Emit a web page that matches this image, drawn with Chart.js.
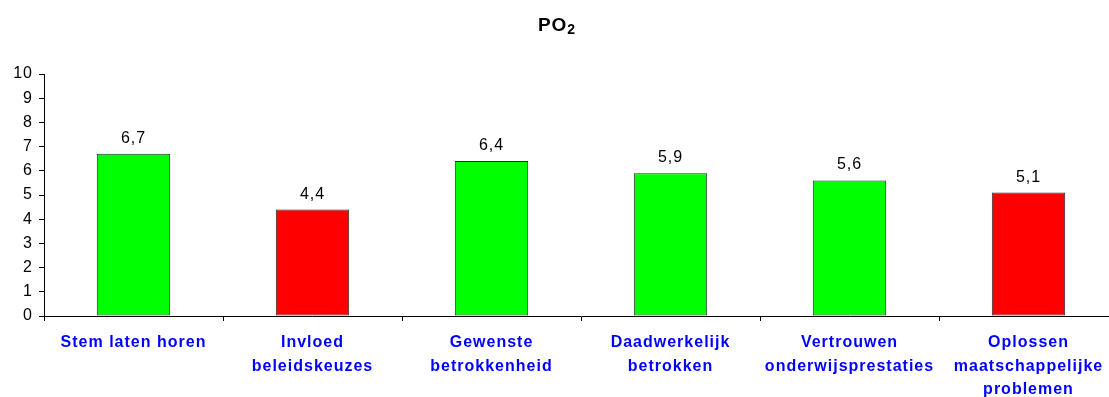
<!DOCTYPE html>
<html>
<head>
<meta charset="utf-8">
<script src="https://cdn.jsdelivr.net/npm/chart.js@4/dist/chart.umd.min.js"></script>
<style>
  html, body { margin: 0; padding: 0; background: #fff; overflow: hidden; }
  #wrap { width: 1120px; height: 397px; }
</style>
</head>
<body>
<div id="wrap"><canvas id="c" width="1120" height="397"></canvas></div>
<script>
const titleMain = "PO";
const titleSub = "2";
const categories = [
  ["Stem laten horen"],
  ["Invloed", "beleidskeuzes"],
  ["Gewenste", "betrokkenheid"],
  ["Daadwerkelijk", "betrokken"],
  ["Vertrouwen", "onderwijsprestaties"],
  ["Oplossen", "maatschappelijke", "problemen"]
];
const values = [6.7, 4.4, 6.4, 5.9, 5.6, 5.1];
const barColors = ["#00FF00", "#FF0000", "#00FF00", "#00FF00", "#00FF00", "#FF0000"];
const yTicks = [0, 1, 2, 3, 4, 5, 6, 7, 8, 9, 10];

const FONT = "'Liberation Sans', Arial, Helvetica, sans-serif";

const spacingPlugin = {
  id: 'spacing',
  beforeDraw(chart) {
    chart.ctx.letterSpacing = '1px';
  }
};

const titlePlugin = {
  id: 'subTitle',
  afterDraw(chart) {
    const ctx = chart.ctx;
    ctx.save();
    ctx.fillStyle = '#000';
    ctx.textBaseline = 'alphabetic';
    ctx.textAlign = 'left';
    ctx.font = "bold 19px " + FONT;
    const w1 = ctx.measureText(titleMain).width;
    ctx.font = "bold 14px " + FONT;
    const w2 = ctx.measureText(titleSub).width;
    const cx = 557;
    const x0 = cx - (w1 + w2) / 2;
    ctx.font = "bold 19px " + FONT;
    ctx.fillText(titleMain, x0, 31);
    ctx.font = "bold 14px " + FONT;
    ctx.fillText(titleSub, x0 + w1, 34);
    ctx.restore();
  }
};

const labelPlugin = {
  id: 'valueLabels',
  afterDatasetsDraw(chart) {
    const ctx = chart.ctx;
    const meta = chart.getDatasetMeta(0);
    ctx.save();
    ctx.fillStyle = '#000';
    ctx.font = "16px " + FONT;
    ctx.textAlign = 'center';
    ctx.textBaseline = 'alphabetic';
    meta.data.forEach((bar, i) => {
      const txt = values[i].toFixed(1).replace('.', ',');
      ctx.fillText(txt, bar.x, bar.y - 11);
    });
    ctx.restore();
  }
};

new Chart(document.getElementById('c'), {
  type: 'bar',
  data: {
    labels: categories,
    datasets: [{
      data: values,
      backgroundColor: barColors,
      borderColor: '#2a2a2a',
      borderWidth: 1,
      borderSkipped: false,
      categoryPercentage: 1,
      barPercentage: 0.41
    }]
  },
  options: {
    responsive: false,
    animation: false,
    devicePixelRatio: 1,
    layout: { padding: { top: 74, left: 0, right: 2, bottom: 0 } },
    plugins: {
      legend: { display: false },
      title: { display: false },
      tooltip: { enabled: false }
    },
    scales: {
      x: {
        grid: {
          display: true,
          drawOnChartArea: false,
          drawTicks: true,
          tickLength: 5,
          color: '#000',
          offset: true
        },
        border: { display: true, color: '#000', width: 1 },
        ticks: {
          autoSkip: false,
          maxRotation: 0,
          minRotation: 0,
          color: '#0000FF',
          font: { family: FONT, size: 16, weight: 'bold', lineHeight: 1.47 },
          padding: 10
        },
        afterFit(scale) { scale.height = 81; }
      },
      y: {
        min: 0,
        max: 10,
        afterBuildTicks(scale) { scale.ticks = yTicks.map(v => ({ value: v })); },
        grid: {
          display: true,
          drawOnChartArea: false,
          drawTicks: true,
          tickLength: 5,
          color: '#000'
        },
        border: { display: true, color: '#000', width: 1 },
        ticks: {
          color: '#000',
          font: { family: FONT, size: 16 },
          padding: 6
        },
        afterFit(scale) { scale.width = 44; }
      }
    }
  },
  plugins: [spacingPlugin, labelPlugin, titlePlugin]
});
</script>
</body>
</html>
